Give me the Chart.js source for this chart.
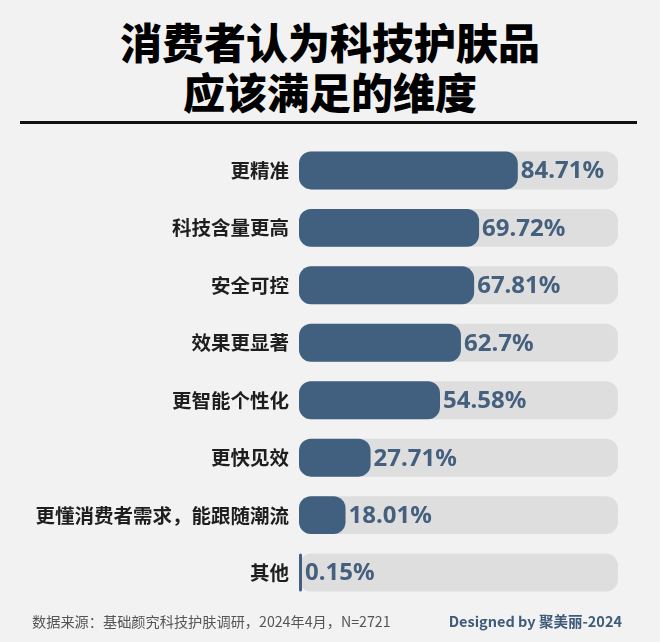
<!DOCTYPE html>
<html>
<head>
<meta charset="utf-8">
<script src="https://cdn.jsdelivr.net/npm/chart.js@4.4.0/dist/chart.umd.min.js"></script>
<style>
  html, body { margin: 0; padding: 0; background: #f2f2f2; }
  #wrap { position: relative; width: 660px; height: 642px; background: #f2f2f2; overflow: hidden;
          font-family: "Noto Sans CJK SC", "Noto Sans", sans-serif; }
  #title { position: absolute; left: 0; top: 16px; width: 660px; text-align: center;
           font-size: 42px; font-weight: 900; line-height: 50px; color: #000; }
  #rule { position: absolute; left: 20px; top: 121px; width: 617px; height: 3px; background: #111; }
  #chartBox { position: absolute; left: 0; top: 128px; width: 660px; height: 487px; }
  #src { position: absolute; left: 32px; top: 611px; font-size: 14.2px; color: #555; }
  #design { position: absolute; right: 38px; top: 610px; font-size: 14.5px; font-weight: 700; color: #3f5b7a; }
</style>
</head>
<body>
<div id="wrap">
  <div id="title">消费者认为科技护肤品<br>应该满足的维度</div>
  <div id="rule"></div>
  <div id="chartBox"><canvas id="c"></canvas></div>
  <div id="src">数据来源：基础颜究科技护肤调研，2024年4月，N=2721</div>
  <div id="design">Designed by 聚美丽-2024</div>
</div>
<script>
const categories = ["更精准", "科技含量更高", "安全可控", "效果更显著", "更智能个性化", "更快见效", "更懂消费者需求，能跟随潮流", "其他"];
const values = [84.71, 69.72, 67.81, 62.7, 54.58, 27.71, 18.01, 0.15];
const valueLabels = ["84.71%", "69.72%", "67.81%", "62.7%", "54.58%", "27.71%", "18.01%", "0.15%"];
const axisMax = 123.5;
const track = categories.map(() => axisMax);

const valueLabelPlugin = {
  id: 'valueLabels',
  afterDatasetsDraw(chart) {
    const ctx = chart.ctx;
    const meta = chart.getDatasetMeta(0);
    ctx.save();
    ctx.font = '700 24px "Noto Sans", "Noto Sans CJK SC", sans-serif';
    ctx.fillStyle = '#44607e';
    ctx.textAlign = 'left';
    ctx.textBaseline = 'middle';
    meta.data.forEach((el, i) => {
      ctx.fillText(valueLabels[i], el.x + 3, el.y + 1);
    });
    ctx.restore();
  }
};

new Chart(document.getElementById('c'), {
  type: 'bar',
  data: {
    labels: categories,
    datasets: [
      {
        data: values,
        backgroundColor: '#41607f',
        borderRadius: 12,
        borderSkipped: false,
        minBarLength: 3,
        grouped: false,
        categoryPercentage: 1,
        barPercentage: 0.66
      },
      {
        data: track,
        backgroundColor: '#dedede',
        borderRadius: 12,
        borderSkipped: false,
        grouped: false,
        categoryPercentage: 1,
        barPercentage: 0.66
      }
    ]
  },
  options: {
    indexAxis: 'y',
    responsive: true,
    maintainAspectRatio: false,
    animation: false,
    layout: { padding: { left: 0, right: 42, top: 0, bottom: 0 } },
    plugins: { legend: { display: false }, tooltip: { enabled: false }, title: { display: false } },
    scales: {
      x: { display: false, min: 0, max: axisMax },
      y: {
        grid: { display: false },
        border: { display: false },
        ticks: {
          color: '#1e1e1e',
          padding: 2,
          font: { family: '"Noto Sans CJK SC", sans-serif', size: 19.5, weight: '700' }
        },
        afterFit(scale) { scale.width = 299; }
      }
    }
  },
  plugins: [valueLabelPlugin]
});
</script>
</body>
</html>
